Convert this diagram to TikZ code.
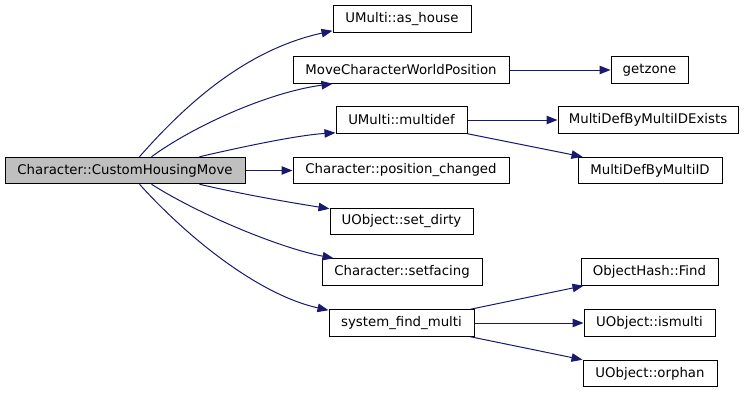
\documentclass[tikz,border=0pt]{standalone}
\usepackage{fontspec}
\setmainfont{DejaVu Sans}
\usetikzlibrary{arrows.meta,calc}
\definecolor{edgeblue}{HTML}{191970}
\definecolor{maingray}{HTML}{BFBFBF}
\begin{document}
\begin{tikzpicture}[x=1pt,y=-1pt,
  fn/.style={draw=black,line width=1pt,inner sep=0pt,minimum height=26.5pt,font=\fontsize{13.3}{16}\selectfont,text=black},
  call/.style={draw=edgeblue,line width=1pt,-{Triangle[length=11pt,width=8.5pt]},edgeblue}]
\useasboundingbox (0,0) rectangle (747,392);
\node[fn,fill=maingray,minimum width=240pt] (main) at (125,170.5) {Character::CustomHousingMove};
\node[fn,minimum width=138pt] (ashouse) at (402,19) {UMulti::as\_house};
\node[fn,minimum width=216pt] (move) at (401,70) {MoveCharacterWorldPosition};
\node[fn,minimum width=131pt] (multidef) at (401.5,120) {UMulti::multidef};
\node[fn,minimum width=216pt] (poschg) at (401,170.5) {Character::position\_changed};
\node[fn,minimum width=143pt] (setdirty) at (401.5,221.5) {UObject::set\_dirty};
\node[fn,minimum width=160pt] (setfacing) at (402,272) {Character::setfacing};
\node[fn,minimum width=145pt] (sfm) at (401.5,323) {system\_find\_multi};
\node[fn,minimum width=77pt] (getzone) at (649.5,70) {getzone};
\node[fn,minimum width=180pt] (exists) at (648,120) {MultiDefByMultiIDExists};
\node[fn,minimum width=144pt] (byid) at (650,170.5) {MultiDefByMultiID};
\node[fn,minimum width=137pt] (find) at (649.5,272) {ObjectHash::Find};
\node[fn,minimum width=131pt] (ismulti) at (649.5,323) {UObject::ismulti};
\node[fn,minimum width=134pt] (orphan) at (650,373.5) {UObject::orphan};
% main -> column 2
\draw[call] ([xshift=135pt]main.north west) .. controls (185,105) and (245,50) .. ([yshift=2pt]ashouse.south west);
\draw[call] ([xshift=147pt]main.north west) .. controls (195,125) and (270,92) .. ([xshift=40pt]move.south west);
\draw[call] ([xshift=195pt]main.north west) .. controls (250,145) and (300,135) .. ([yshift=1pt]multidef.south west);
\draw[call] (main.east) -- (poschg.west);
\draw[call] ([xshift=195pt]main.south west) .. controls (250,196) and (300,204) .. ([yshift=-1pt]setdirty.north west);
\draw[call] ([xshift=147pt]main.south west) .. controls (200,215) and (280,248) .. ([xshift=12pt]setfacing.north west);
\draw[call] ([xshift=135pt]main.south west) .. controls (190,240) and (260,295) .. ([yshift=-1pt]sfm.north west);
% secondary
\draw[call] (move.east) -- (getzone.west);
\draw[call] (multidef.east) -- (exists.west);
\draw[call] (multidef.south east) -- ([xshift=5pt]byid.north west);
\draw[call] ([xshift=-4pt]sfm.north east) -- ([xshift=3pt]find.south west);
\draw[call] (sfm.east) -- (ismulti.west);
\draw[call] ([xshift=-4pt]sfm.south east) -- (orphan.north west);
\end{tikzpicture}
\end{document}
